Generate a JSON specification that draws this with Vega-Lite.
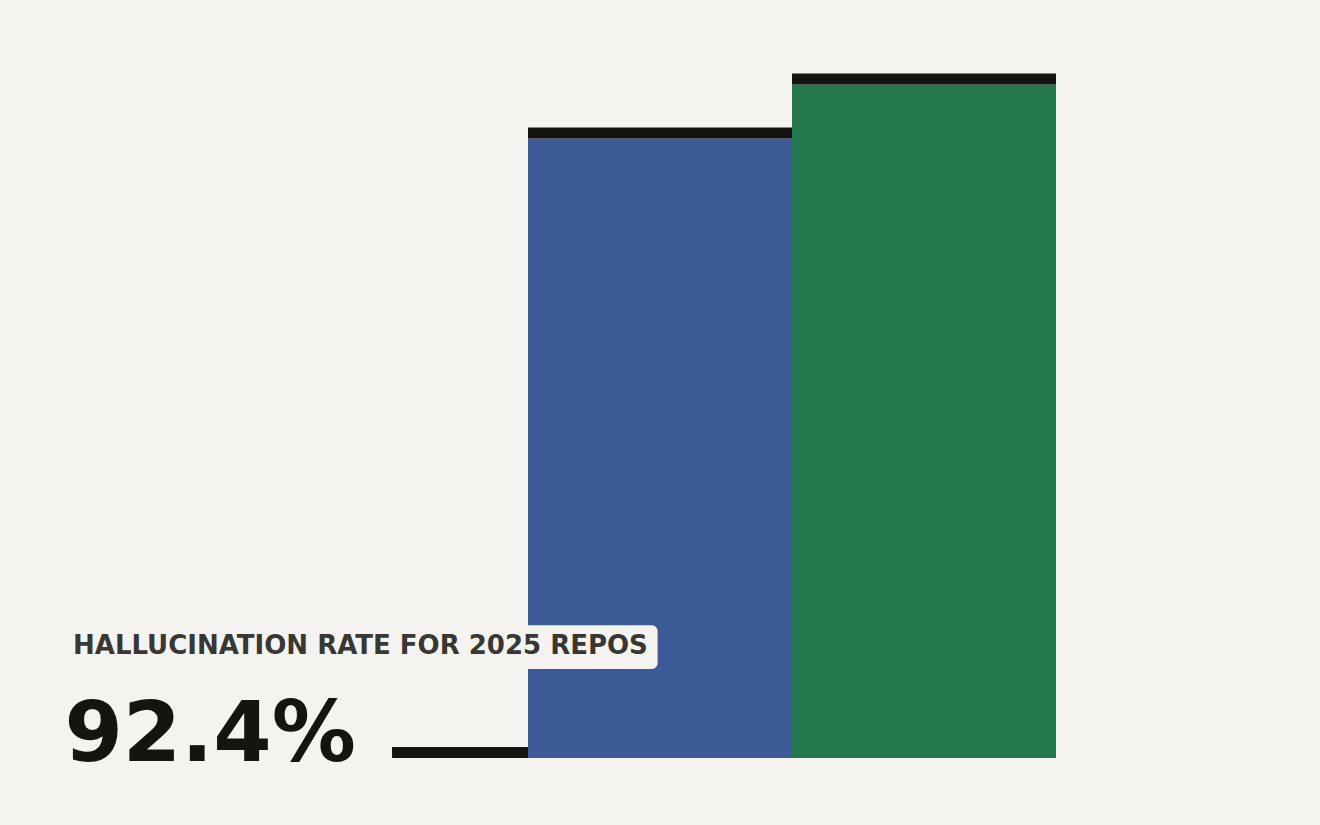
{
  "$schema": "https://vega.github.io/schema/vega-lite/v6.json",
  "autosize": "none",
  "width": 1320,
  "height": 758,
  "padding": {"left": 0, "top": 0, "right": 0, "bottom": 67},
  "background": "#f4f3ef",
  "config": {"view": {"stroke": null}},
  "data": {"values": [
    {"group": "Baseline", "start": 1.485, "end": 2, "rate": 0},
    {"group": "2024 repos", "start": 2, "end": 3, "rate": 85.0},
    {"group": "2025 repos", "start": 3, "end": 4, "rate": 92.4}
  ]},
  "layer": [
    {
      "mark": {"type": "rect"},
      "encoding": {
        "x": {"field": "start", "type": "quantitative", "scale": {"domain": [0, 5], "nice": false, "zero": false}, "axis": null},
        "x2": {"field": "end"},
        "y": {"field": "rate", "type": "quantitative", "scale": {"domain": [0, 104], "nice": false}, "axis": null},
        "y2": {"datum": 0},
        "color": {"field": "group", "type": "nominal", "legend": null,
          "scale": {"domain": ["Baseline", "2024 repos", "2025 repos"], "range": ["#b03a2e", "#3c5a96", "#22784c"]}}
      }
    },
    {
      "mark": {"type": "rule", "strokeWidth": 11, "color": "#151410", "yOffset": -5.5, "strokeCap": "butt"},
      "encoding": {
        "x": {"field": "start", "type": "quantitative"},
        "x2": {"field": "end"},
        "y": {"field": "rate", "type": "quantitative"}
      }
    },
    {
      "data": {"values": [{"label": "HALLUCINATION RATE FOR 2025 REPOS"}]},
      "mark": {"type": "rect", "color": "#f4f3ef", "cornerRadius": 6},
      "encoding": {
        "x": {"datum": 0.235, "type": "quantitative"},
        "x2": {"datum": 2.491},
        "y": {"datum": 18.2, "type": "quantitative"},
        "y2": {"datum": 12.2}
      }
    },
    {
      "data": {"values": [{"label": "HALLUCINATION RATE FOR 2025 REPOS"}]},
      "mark": {"type": "text", "align": "left", "baseline": "alphabetic", "font": "DejaVu Sans", "fontWeight": "bold", "fontSize": 26, "color": "#393733"},
      "encoding": {
        "x": {"datum": 0.2765, "type": "quantitative"},
        "y": {"datum": 14.27, "type": "quantitative"},
        "text": {"field": "label"}
      }
    },
    {
      "data": {"values": [{"value": "92.4%"}]},
      "mark": {"type": "text", "align": "left", "baseline": "alphabetic", "font": "DejaVu Sans", "fontWeight": "bold", "fontSize": 84, "color": "#151410"},
      "encoding": {
        "x": {"datum": 0.244, "type": "quantitative"},
        "y": {"datum": -0.41, "type": "quantitative"},
        "text": {"field": "value"}
      }
    }
  ]
}
